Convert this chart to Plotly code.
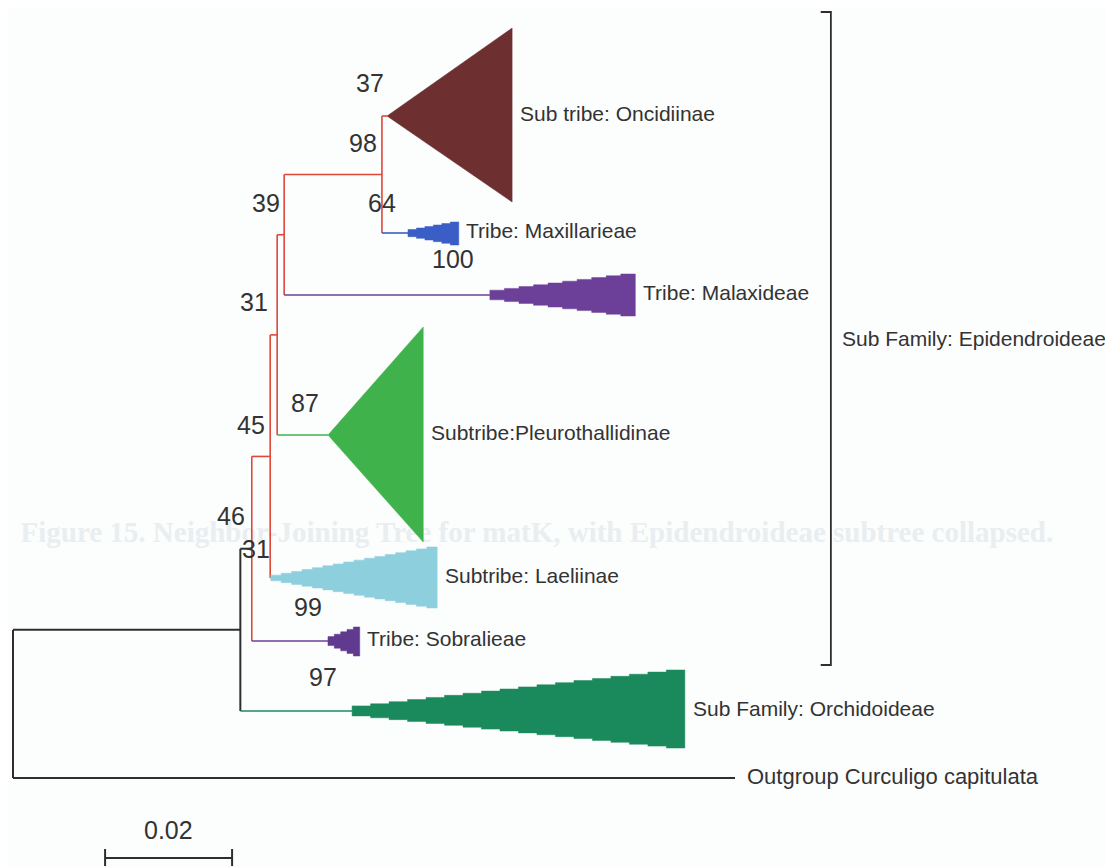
import plotly.graph_objects as go

# ---------------- data ----------------
# internal nodes: name, parent, depth (substitutions / site from root)
node_names = ["root", "ingroup", "N46", "N45", "N31", "N39", "N98"]
node_parent = [None, "root", "ingroup", "N46", "N45", "N31", "N39"]
node_depth = [0.0, 0.0358, 0.0376, 0.0405, 0.0416, 0.0427, 0.0581]

# collapsed clades
clade_names = ["Sub tribe: Oncidiinae", "Tribe: Maxillarieae", "Tribe: Malaxideae",
               "Subtribe:Pleurothallidinae", "Subtribe: Laeliinae", "Tribe: Sobralieae",
               "Sub Family: Orchidoideae"]
clade_parent = ["N98", "N98", "N39", "N31", "N45", "N46", "ingroup"]
clade_row = [116, 233, 295, 435, 578, 641, 711]          # vertical position (row)
clade_apex = [0.0589, 0.0622, 0.0751, 0.0496, 0.0406, 0.0496, 0.0534]
clade_end = [0.0786, 0.0702, 0.0980, 0.0646, 0.0668, 0.0546, 0.1058]
clade_top = [28, 222, 274, 327, 547, 627, 670]
clade_bot = [202, 245, 316, 542, 608, 656, 748]
clade_start_half = [0, 2, 3, 0, 1, 2, 3]
clade_steps = [0, 6, 10, 0, 16, 5, 18]
clade_fill = ["#6e2f30", "#3a5ec6", "#6c3f99", "#3fb24c", "#8ecfde", "#5f3a8e", "#1a8a5c"]
clade_stem = ["#e0463a", "#3a5ec6", "#6c3f99", "#3fb24c", "#8ecfde", "#6c3f99", "#1a8a5c"]

# outgroup
outgroup_name = "Outgroup Curculigo capitulata"
outgroup_depth = 0.1137
outgroup_row = 778

# bootstrap support labels (value, x in distance, row)
support_vals = ["37", "98", "64", "100", "39", "31", "87", "45", "46", "31", "99", "97"]
support_x = [0.0562, 0.0551, 0.0581, 0.0693, 0.0398, 0.0380, 0.0460, 0.0374, 0.0344, 0.0383, 0.0465, 0.0488]
support_y = [83, 143, 203, 259, 203, 302, 403, 425, 516, 549, 607, 677]

scale_len = 0.02
scale_start = 0.0145

bracket_label = "Sub Family: Epidendroideae"
bracket_x = 0.1288
bracket_top, bracket_bot = 12, 665

caption = "Figure 15. Neighbor-Joining Tree for matK, with Epidendroideae subtree collapsed."

# ---------------- build tree geometry ----------------
depth = dict(zip(node_names, node_depth))
children = {n: [] for n in node_names}
for n, p in zip(node_names, node_parent):
    if p:
        children[p].append(("node", n))
for i, p in enumerate(clade_parent):
    children[p].append(("clade", i))
children["root"].append(("out", 0))

row_cache = {}


def row_of(kind, key):
    if kind == "clade":
        return clade_row[key]
    if kind == "out":
        return outgroup_row
    if key in row_cache:
        return row_cache[key]
    rows = [row_of(k, c) for k, c in children[key]]
    r = (min(rows) + max(rows)) / 2.0
    row_cache[key] = r
    return r


black = "#2e2e2e"
red = "#e0463a"
fig = go.Figure()

# faint bleed-through caption of the scanned page (drawn first, beneath the tree)
fig.add_trace(go.Scatter(x=[0.0825], y=[535], mode="text", text=["<b>" + caption + "</b>"],
                         textposition="middle center",
                         textfont=dict(family="Liberation Serif, serif", size=29, color="#e9eef0"),
                         hoverinfo="skip", showlegend=False))


def seg(x, y, color, width):
    fig.add_trace(go.Scatter(x=x, y=y, mode="lines", line=dict(color=color, width=width),
                             hoverinfo="skip", showlegend=False))


# vertical lines for nodes
for n in node_names:
    rows = [row_of(k, c) for k, c in children[n]]
    col = black if n in ("root", "ingroup") else red
    seg([depth[n], depth[n]], [min(rows), max(rows)], col, 2 if col == black else 1.6)

# horizontal stems
for n, p in zip(node_names, node_parent):
    if p:
        col = black if n in ("ingroup", "N46") else red
        seg([depth[p], depth[n]], [row_of("node", n)] * 2, col, 2 if col == black else 1.6)
for i, p in enumerate(clade_parent):
    seg([depth[p], clade_apex[i]], [clade_row[i]] * 2, clade_stem[i], 1.6)
seg([0, outgroup_depth], [outgroup_row] * 2, black, 2)

# clade shapes
for i in range(len(clade_names)):
    a, e, r = clade_apex[i], clade_end[i], clade_row[i]
    ht, hb = r - clade_top[i], clade_bot[i] - r
    n = clade_steps[i]
    if n == 0:
        xs = [a, e, e, a]
        ys = [r, clade_top[i], clade_bot[i], r]
    else:
        h0 = clade_start_half[i]
        top_pts, bot_pts = [], []
        for k in range(1, n + 1):
            x0 = a + (e - a) * (k - 1) / n
            x1 = a + (e - a) * k / n
            f = k / n
            top_pts += [(x0, r - (h0 + (ht - h0) * f)), (x1, r - (h0 + (ht - h0) * f))]
            bot_pts += [(x0, r + (h0 + (hb - h0) * f)), (x1, r + (h0 + (hb - h0) * f))]
        pts = [(a, r - h0)] + top_pts + bot_pts[::-1] + [(a, r + h0), (a, r - h0)]
        xs = [p[0] for p in pts]
        ys = [p[1] for p in pts]
    fig.add_trace(go.Scatter(x=xs, y=ys, mode="lines", fill="toself", fillcolor=clade_fill[i],
                             line=dict(color=clade_fill[i], width=0.5), hoverinfo="skip",
                             showlegend=False))

label_font = dict(family="Liberation Sans Narrow, Arial Narrow, Liberation Sans, sans-serif",
                  size=21, color="#333333")
num_font = dict(family="Liberation Sans Narrow, Arial Narrow, Liberation Sans, sans-serif",
                size=25, color="#333333")

ann = []
for i in range(len(clade_names)):
    ann.append(dict(x=clade_end[i] + 0.0009, y=clade_row[i] - 3, text=clade_names[i], showarrow=False,
                    xanchor="left", yanchor="middle", font=label_font))
ann.append(dict(x=outgroup_depth + 0.0016, y=outgroup_row - 2, text=outgroup_name, showarrow=False,
                xanchor="left", yanchor="middle",
                font=dict(family="Liberation Sans, Arial, sans-serif", size=22, color="#333333")))
for v, x, y in zip(support_vals, support_x, support_y):
    ann.append(dict(x=x, y=y, text=v, showarrow=False, xanchor="center", yanchor="middle",
                    font=num_font, borderpad=0))

# bracket
seg([bracket_x - 0.0016, bracket_x, bracket_x, bracket_x - 0.0016],
    [bracket_top, bracket_top, bracket_bot, bracket_bot], black, 1.8)
ann.append(dict(x=bracket_x + 0.0014, y=338, text=bracket_label, showarrow=False,
                xanchor="left", yanchor="middle", font=label_font))

# scale bar
seg([scale_start, scale_start + scale_len], [858, 858], black, 2)
seg([scale_start, scale_start], [849, 866], black, 2)
seg([scale_start + scale_len, scale_start + scale_len], [849, 866], black, 2)
ann.append(dict(x=scale_start + scale_len / 2, y=830, text=f"{scale_len:.2f}", showarrow=False,
                xanchor="center", yanchor="middle", font=num_font))

# the page body has an 8px margin, so the figure is sized to end at the window edge
fig.update_layout(
    width=1105, height=859, margin=dict(l=0, r=0, t=0, b=0),
    paper_bgcolor="#fcfdfd", plot_bgcolor="#fcfdfd",
    xaxis=dict(range=[-0.00079, 0.17323], visible=False, fixedrange=True),
    yaxis=dict(range=[867, 8], visible=False, fixedrange=True),
    annotations=ann, showlegend=False,
)

fig.write_html("out.html", config={"displayModeBar": False})
